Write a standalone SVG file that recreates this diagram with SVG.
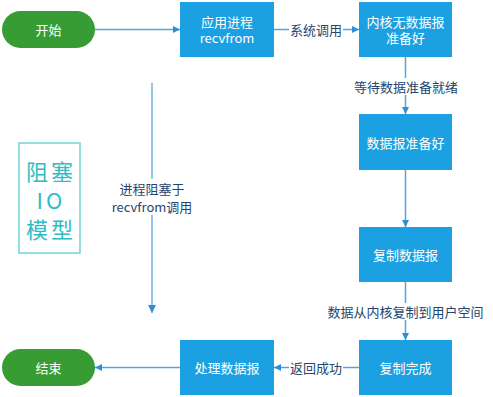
<svg xmlns="http://www.w3.org/2000/svg" width="493" height="397" viewBox="0 0 493 397">
<defs>
<style>
.box{fill:#1ba1e2;}
.pill{fill:#389c34;}
.nt{font-family:"Noto Sans CJK SC","Open Sans",sans-serif;font-size:13px;fill:#ffffff;text-anchor:middle;dominant-baseline:central;}
.lt{font-family:"Noto Sans CJK SC","Open Sans",sans-serif;font-size:13px;fill:#24466e;text-anchor:middle;dominant-baseline:central;}
.ln{stroke:#4fa6dc;stroke-width:1.5;fill:none;}
.lnp{stroke:#93c6e4;stroke-width:2;fill:none;}
.bg{fill:#ffffff;}
.tt{font-family:"Noto Sans CJK SC","Noto Sans",sans-serif;font-size:22px;fill:#2fbcc4;text-anchor:middle;dominant-baseline:central;letter-spacing:3px;}
</style>
<marker id="ah" viewBox="0 0 10 10" refX="10" refY="5" markerWidth="7" markerHeight="7" markerUnits="userSpaceOnUse" orient="auto">
<path d="M0,0 L10,5 L0,10 Z" fill="#2a8fd4"/>
</marker>
<marker id="ah2" viewBox="0 0 10 10" refX="10" refY="5" markerWidth="8" markerHeight="8" markerUnits="userSpaceOnUse" orient="auto">
<path d="M0,0 L10,5 L0,10 Z" fill="#2a8fd4"/>
</marker>
</defs>
<rect width="493" height="397" fill="#ffffff"/>
<g id="connectors">
<line class="ln" x1="95" y1="29.5" x2="180" y2="29.5" marker-end="url(#ah)"/>
<line class="ln" x1="274" y1="29.5" x2="359" y2="29.5" marker-end="url(#ah)"/>
<rect class="bg" x="289" y="21" width="54" height="17"/>
<text class="lt" x="316" y="29.5">系统调用</text>
<line class="ln" x1="405.5" y1="57" x2="405.5" y2="114" marker-end="url(#ah)"/>
<rect class="bg" x="352" y="78" width="108" height="17"/>
<text class="lt" x="406" y="86">等待数据准备就绪</text>
<line class="ln" x1="405.5" y1="170" x2="405.5" y2="227" marker-end="url(#ah)"/>
<line class="ln" x1="405.5" y1="282" x2="405.5" y2="340" marker-end="url(#ah)"/>
<rect class="bg" x="326" y="303" width="160" height="17"/>
<text class="lt" x="405.5" y="311.5">数据从内核复制到用户空间</text>
<line class="ln" x1="359" y1="367.5" x2="274" y2="367.5" marker-end="url(#ah)"/>
<rect class="bg" x="289" y="359" width="54" height="17"/>
<text class="lt" x="316" y="367.5">返回成功</text>
<line class="ln" x1="180" y1="367.5" x2="95" y2="367.5" marker-end="url(#ah)"/>
<line class="lnp" x1="152" y1="83" x2="152" y2="313" marker-end="url(#ah2)"/>
<rect class="bg" x="110" y="179" width="84" height="36"/>
<text class="lt" x="152" y="188">进程阻塞于</text>
<text class="lt" x="152" y="206">recvfrom调用</text>
</g>
<g id="start">
<rect class="pill" x="2" y="11" width="93" height="37" rx="18.5"/>
<text class="nt" x="48.5" y="29.5">开始</text>
</g>
<g id="app">
<rect class="box" x="180" y="2" width="94" height="55"/>
<text class="nt" x="227" y="21.5">应用进程</text>
<text class="nt" x="227" y="37.5">recvfrom</text>
</g>
<g id="nodata">
<rect class="box" x="359" y="2" width="93" height="55"/>
<text class="nt" x="405.5" y="21.5">内核无数据报</text>
<text class="nt" x="405.5" y="37.5">准备好</text>
</g>
<g id="ready">
<rect class="box" x="359" y="114" width="93" height="56"/>
<text class="nt" x="405.5" y="142">数据报准备好</text>
</g>
<g id="copy">
<rect class="box" x="359" y="227" width="93" height="55"/>
<text class="nt" x="405.5" y="254.5">复制数据报</text>
</g>
<g id="done">
<rect class="box" x="359" y="340" width="93" height="55"/>
<text class="nt" x="405.5" y="367.5">复制完成</text>
</g>
<g id="process">
<rect class="box" x="180" y="340" width="94" height="55"/>
<text class="nt" x="227" y="367.5">处理数据报</text>
</g>
<g id="end">
<rect class="pill" x="2" y="349" width="93" height="37" rx="18.5"/>
<text class="nt" x="48.5" y="367.5">结束</text>
</g>
<g id="title">
<rect x="19" y="143" width="61" height="110" fill="none" stroke="#6fd3d9" stroke-width="1.5"/>
<text class="tt" x="51" y="170">阻塞</text>
<text class="tt" x="51" y="199">IO</text>
<text class="tt" x="51" y="228">模型</text>
</g>
</svg>
